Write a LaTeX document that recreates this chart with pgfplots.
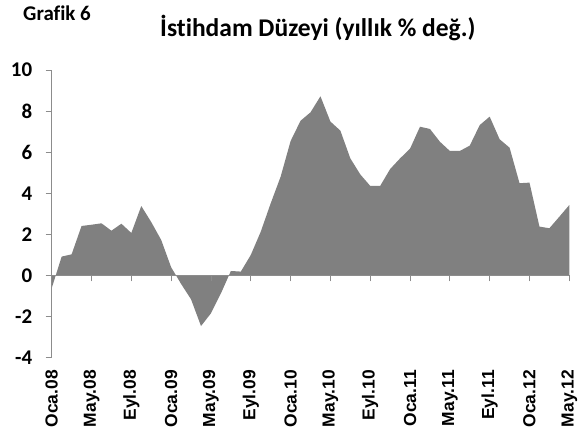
\documentclass[border=0pt]{standalone}
\usepackage{fontspec}
\setmainfont{Carlito}[Ligatures=NoCommon]
\newfontfamily\arialf{Liberation Sans}
\usepackage{pgfplots}
\pgfplotsset{compat=1.18}
\definecolor{areagray}{HTML}{808080}
\definecolor{axisgray}{HTML}{8C8C8C}
\pgfplotstableread{
m v
0 -0.62
1 0.92
2 1.03
3 2.41
4 2.47
5 2.54
6 2.18
7 2.52
8 2.07
9 3.38
10 2.60
11 1.73
12 0.40
13 -0.41
14 -1.16
15 -2.46
16 -1.84
17 -0.87
18 0.22
19 0.19
20 1.00
21 2.13
22 3.51
23 4.81
24 6.54
25 7.53
26 7.94
27 8.72
28 7.49
29 7.05
30 5.70
31 4.92
32 4.36
33 4.36
34 5.18
35 5.70
36 6.17
37 7.24
38 7.13
39 6.51
40 6.06
41 6.06
42 6.32
43 7.32
44 7.73
45 6.63
46 6.22
47 4.49
48 4.52
49 2.38
50 2.30
51 2.86
52 3.43
}\datatable
\begin{document}
\begin{tikzpicture}
\path[use as bounding box] (0,0) rectangle (583bp,443bp);
\begin{axis}[
  at={(51.7bp,85.3bp)}, anchor=south west, scale only axis,
  width=517.6bp, height=287.7bp,
  xmin=0, xmax=52, ymin=-4, ymax=10,
  axis x line=middle, axis y line=left,
  axis line style={-, draw=axisgray, line width=0.9bp},
  hide obscured x ticks=false, hide obscured y ticks=false,
  xtick={0,4,...,52}, xticklabels={},
  ytick={-4,-2,...,10}, yticklabels={-4,-2,0,2,4,6,8,10},
  tick align=outside, major tick length=6bp,
  tick style={draw=axisgray, line width=0.9bp},
  yticklabel style={font=\bfseries\fontsize{21}{21}\selectfont, anchor=east, xshift=-10bp},
  axis on top,
]
\addplot[fill=areagray, draw=none] table[x=m, y=v] {\datatable} \closedcycle;
\end{axis}
\begin{axis}[
  at={(51.7bp,85.3bp)}, anchor=south west, scale only axis,
  width=517.6bp, height=287.7bp,
  xmin=0, xmax=52, ymin=-4, ymax=10,
  axis x line=bottom, axis y line=none,
  x axis line style={draw=none},
  xtick={0,4,...,52}, major tick length=0pt,
  xticklabels={Oca.08,May.08,Eyl.08,Oca.09,May.09,Eyl.09,Oca.10,May.10,Eyl.10,Oca.11,May.11,Eyl.11,Oca.12,May.12},
  xticklabel style={font=\arialf\bfseries\fontsize{17.5}{17.5}\selectfont, rotate=90, anchor=east},
  xticklabel shift=9bp,
  ytick=\empty,
]
\end{axis}
\node[anchor=base west, inner sep=0pt] at (160bp,406bp) {\bfseries\fontsize{25.6}{25.6}\selectfont İstihdam Düzeyi (yıllık \% değ.)};
\node[anchor=base west, inner sep=0pt] at (23bp,422bp) {\bfseries\fontsize{21}{21}\selectfont Grafik 6};
\end{tikzpicture}
\end{document}
